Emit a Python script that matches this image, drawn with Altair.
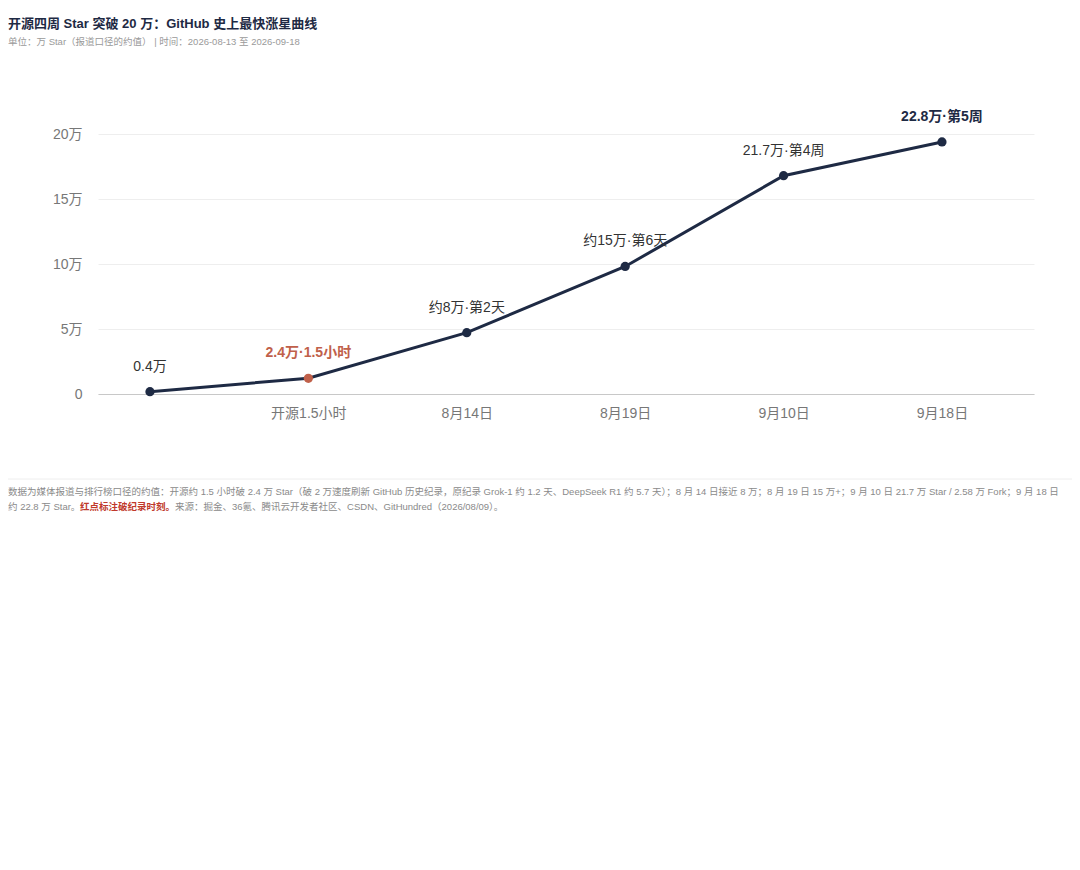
import altair as alt
import pandas as pd

# ---- data ----
idx = [0, 1, 2, 3, 4, 5]
x_labels = ["", "开源1.5小时", "8月14日", "8月19日", "9月10日", "9月18日"]
values = [0.18, 1.21, 4.72, 9.81, 16.79, 19.39]
point_labels = ["0.4万", "2.4万·1.5小时", "约8万·第2天", "约15万·第6天", "21.7万·第4周", "22.8万·第5周"]
label_bold = [False, True, False, False, False, True]
highlight = [False, True, False, False, False, False]

TITLE = "开源四周 Star 突破 20 万：GitHub 史上最快涨星曲线"
SUBTITLE = "单位：万 Star（报道口径的约值） | 时间：2026-08-13 至 2026-09-18"
FOOT1 = ("数据为媒体报道与排行榜口径的约值：开源约 1.5 小时破 2.4 万 Star（破 2 万速度刷新 GitHub 历史纪录，"
         "原纪录 Grok-1 约 1.2 天、DeepSeek R1 约 5.7 天）；8 月 14 日接近 8 万；8 月 19 日 15 万+；"
         "9 月 10 日 21.7 万 Star / 2.58 万 Fork；9 月 18 日")
FOOT2A = "约 22.8 万 Star。"
FOOT2B = "红点标注破纪录时刻。"
FOOT2C = "来源：掘金、36氪、腾讯云开发者社区、CSDN、GitHundred（2026/08/09）。"

NAVY = "#1e2a44"
RED = "#c0604a"
FONT = "Liberation Sans, Noto Sans CJK SC, sans-serif"

df = pd.DataFrame({
    "idx": idx,
    "val": values,
    "lab": point_labels,
    "bold": label_bold,
    "hl": highlight,
})
df["pcolor"] = [RED if h else NAVY for h in highlight]
df["tcolor"] = [RED if h else (NAVY if b else "#333333") for h, b in zip(highlight, label_bold)]

W, H = 936, 260

xlab_expr = "[" + ",".join("'" + s + "'" for s in x_labels) + "][datum.value]"

xscale = alt.Scale(domain=[-0.328, 5.581], nice=False, zero=False)
yscale = alt.Scale(domain=[0, 20], nice=False)

x_enc = alt.X("idx:Q", scale=xscale,
              axis=alt.Axis(values=[1, 2, 3, 4, 5], labelExpr=xlab_expr, title=None,
                            grid=False, ticks=False, domain=True, domainColor="#c8c8c8",
                            domainWidth=1, labelColor="#777777", labelFontSize=14,
                            labelPadding=12, labelFont=FONT))
y_enc = alt.Y("val:Q", scale=yscale,
              axis=alt.Axis(values=[0, 5, 10, 15, 20],
                            labelExpr="datum.value == 0 ? '0' : datum.value + '万'",
                            title=None, grid=True, gridColor="#eeeeee", ticks=False,
                            domain=False, labelColor="#777777", labelFontSize=14,
                            labelPadding=16, labelFont=FONT))

base = alt.Chart(df)

line = base.mark_line(color=NAVY, strokeWidth=3).encode(x=x_enc, y=y_enc)
pts = base.mark_circle(size=85, opacity=1).encode(
    x="idx:Q", y="val:Q", color=alt.Color("pcolor:N", scale=None))
lab_norm = base.transform_filter("!datum.bold").mark_text(
    dy=-25, fontSize=14, font=FONT).encode(
    x="idx:Q", y="val:Q", text="lab:N", color=alt.Color("tcolor:N", scale=None))
lab_bold = base.transform_filter("datum.bold").mark_text(
    dy=-25, fontSize=14, fontWeight="bold", font=FONT).encode(
    x="idx:Q", y="val:Q", text="lab:N", color=alt.Color("tcolor:N", scale=None))

def txt(s, x, y, size, color, weight="normal"):
    return alt.Chart(pd.DataFrame({"t": [s]})).mark_text(
        align="left", baseline="middle", fontSize=size, fontWeight=weight,
        color=color, font=FONT).encode(x=alt.value(x), y=alt.value(y), text="t:N")

# page coords -> plot coords : x - 98, y - 134
title = txt(TITLE, -90, 24 - 134, 13, NAVY, "bold")
subtitle = txt(SUBTITLE, -90, 42 - 134, 9.5, "#9a9a9a")
sep = alt.Chart(pd.DataFrame({"a": [0]})).mark_rule(color="#eeeeee", strokeWidth=1).encode(
    x=alt.value(-90), x2=alt.value(974), y=alt.value(479 - 134))
f1 = txt(FOOT1, -90, 492 - 134, 9.5, "#8a8a8a")
f2a = txt(FOOT2A, -90, 507 - 134, 9.5, "#8a8a8a")
f2b = txt(FOOT2B, 80 - 98, 507 - 134, 9.5, "#c0392b", "bold")
f2c = txt(FOOT2C, 175 - 98, 507 - 134, 9.5, "#8a8a8a")

chart = alt.layer(line, pts, lab_norm, lab_bold, title, subtitle, sep, f1, f2a, f2b, f2c).properties(
    width=W, height=H,
    background="white",
    autosize=alt.AutoSizeParams(type="none"),
    padding={"left": 90, "top": 126, "right": 38, "bottom": 460},
).configure(font=FONT).configure_view(strokeWidth=0)

chart.save("out.html", embed_options={"renderer": "svg", "actions": False})
